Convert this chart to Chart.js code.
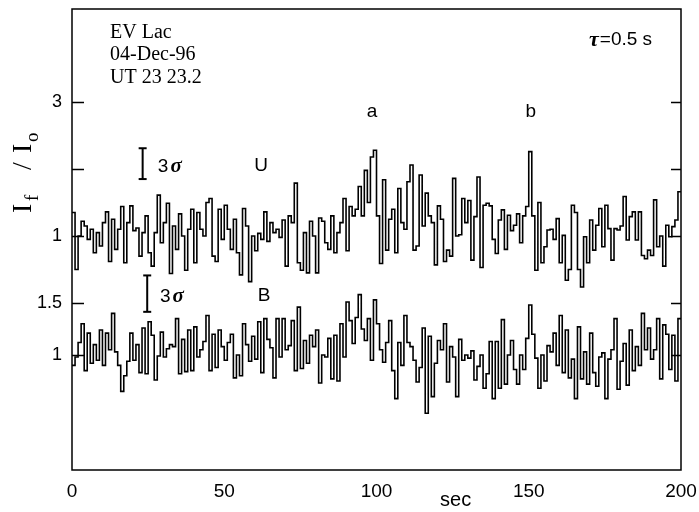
<!DOCTYPE html>
<html>
<head>
<meta charset="utf-8">
<title>EV Lac 04-Dec-96</title>
<script src="https://cdn.jsdelivr.net/npm/chart.js@4.4.1/dist/chart.umd.min.js"></script>
<style>
  html, body { margin: 0; padding: 0; background: #fff; }
  #wrap { width: 699px; height: 512px; }
</style>
</head>
<body>
<div id="wrap"><canvas id="flareChart" width="699" height="512"></canvas></div>
<script>
// --- data: I_f / I_o per time bin ---
const binSec = 1;
const uFlux = [
  1.35, 0.5, 1.0, 1.22, 1.15, 0.95, 1.1, 0.75, 1.05, 0.85,
  1.2, 1.36, 0.62, 1.25, 0.8, 1.1, 1.44, 0.6, 1.2, 1.45,
  1.08, 1.12, 0.7, 1.05, 1.3, 0.75, 0.55, 1.05, 1.61, 0.9,
  1.2, 1.49, 0.44, 1.15, 0.8, 1.33, 1.0, 0.49, 1.1, 1.4,
  0.6, 1.35, 1.1, 1.0, 1.5, 1.56, 0.7, 0.62, 1.4, 0.95,
  1.46, 1.1, 0.8, 1.25, 0.75, 0.42, 1.41, 1.15, 0.32, 1.0,
  0.78, 1.04, 0.95, 1.36, 0.92, 1.2, 1.05, 1.1, 0.98, 1.24,
  0.55, 1.3, 1.2, 1.79, 0.6, 0.49, 1.05, 0.45, 1.22, 1.0,
  0.45, 1.27, 1.22, 0.9, 0.8, 1.3, 0.75, 1.05, 1.2, 1.56,
  0.78, 1.44, 1.3, 1.4, 1.74, 1.3, 1.98, 1.5, 2.18, 2.28,
  1.3, 0.59, 1.84, 0.79, 1.25, 1.4, 0.75, 1.71, 1.2, 1.1,
  1.81, 2.06, 0.79, 0.85, 1.91, 1.15, 1.64, 1.3, 1.2, 0.57,
  1.45, 1.25, 0.62, 0.79, 0.7, 1.86, 1.0, 1.02, 1.56, 1.2,
  1.53, 0.64, 1.29, 1.88, 0.53, 1.46, 1.49, 1.45, 0.95, 0.74,
  1.24, 1.39, 0.8, 1.31, 1.08, 1.16, 1.33, 0.9, 1.3, 1.44,
  2.26, 1.3, 0.49, 1.5, 0.6, 0.84, 1.09, 1.1, 0.95, 1.26,
  0.6, 1.01, 0.34, 0.5, 1.46, 1.35, 0.5, 0.24, 0.99, 0.6,
  1.24, 0.79, 1.16, 1.41, 0.84, 1.46, 1.11, 0.64, 1.11, 1.09,
  1.15, 1.59, 0.94, 1.29, 1.36, 0.94, 1.36, 0.71, 0.66, 0.79,
  0.71, 1.54, 0.84, 1.0, 0.55, 1.16, 0.99, 1.14, 1.24, 1.66
];
const bFlux = [
  0.9, 0.98, 1.12, 1.3, 0.85, 1.21, 0.92, 1.1, 0.95, 1.24,
  0.9, 1.21, 1.05, 1.4, 1.03, 0.9, 0.65, 0.8, 0.94, 1.21,
  0.95, 1.1, 0.83, 1.26, 0.82, 1.32, 1.19, 0.76, 0.99, 1.22,
  0.98, 1.06, 1.1, 1.08, 1.35, 0.82, 1.15, 0.84, 1.24, 0.85,
  1.27, 0.98, 1.05, 1.13, 1.38, 0.85, 1.2, 0.88, 1.24, 1.08,
  0.95, 1.12, 1.2, 0.78, 1.0, 0.8, 1.3, 1.1, 0.94, 1.18,
  0.96, 1.32, 0.83, 1.35, 1.15, 1.07, 0.78, 1.35, 0.98, 1.35,
  1.05, 1.09, 1.33, 0.85, 1.46, 0.87, 1.14, 0.92, 1.19, 1.08,
  1.24, 0.73, 1.0, 0.98, 1.16, 0.77, 1.19, 0.75, 1.3, 0.98,
  1.51, 1.33, 1.11, 1.36, 1.58, 1.25, 1.14, 1.35, 0.95, 1.53,
  1.3, 1.05, 0.93, 1.12, 1.33, 0.85, 0.58, 1.12, 0.9, 1.38,
  1.12, 1.08, 0.95, 0.74, 0.88, 1.26, 0.44, 1.18, 0.6, 0.92,
  1.14, 1.05, 1.3, 0.74, 1.08, 0.98, 0.6, 1.15, 0.95, 1.0,
  0.97, 1.04, 0.76, 0.89, 1.0, 0.68, 0.82, 1.13, 0.58, 1.13,
  0.68, 1.34, 0.72, 1.0, 1.14, 0.86, 0.72, 1.0, 0.86, 1.16,
  1.48, 1.2, 0.97, 0.68, 1.0, 0.75, 1.09, 1.03, 1.21, 0.9,
  1.38, 0.83, 1.24, 0.78, 0.96, 0.58, 1.27, 0.77, 1.03, 0.72,
  1.21, 0.83, 0.7, 0.98, 1.02, 0.58, 0.96, 1.05, 1.35, 0.67,
  0.94, 1.11, 0.71, 1.24, 0.85, 1.08, 0.9, 1.4, 1.05, 1.26,
  0.96, 1.05, 1.35, 0.77, 1.29, 1.2, 0.86, 1.19, 0.75, 1.35
];
const xTicks = [0, 50, 100, 150, 200];
const uTicks = [1, 2, 3];
const uTickLabels = ['1', '', '3'];
const bTicks = [1, 1.5];
const bTickLabels = ['1', '1.5'];
// 3 sigma bars (time, centre, full length)
const sigmaU = { t: 23.2, mid: 2.08, len: 0.46 };
const sigmaB = { t: 24.7, mid: 1.59, len: 0.35 };

const SANS = '"Liberation Sans", Arial, sans-serif';
const SERIF = '"Liberation Serif", "Times New Roman", serif';

// step histogram: each value holds for one bin, last value closes at the end
function toSteps(arr) {
  const pts = arr.map((v, i) => ({ x: i * binSec, y: v }));
  pts.push({ x: arr.length * binSec, y: arr[arr.length - 1] });
  return pts;
}
function sigmaBar(s) {
  return [{ x: s.t, y: s.mid + s.len / 2 }, { x: s.t, y: s.mid - s.len / 2 }];
}

const traceStyle = { borderColor: '#000', borderWidth: 1.6, pointRadius: 0, stepped: 'before',
  fill: false, clip: false };
const barStyle = { borderColor: '#000', borderWidth: 2, pointStyle: 'line', pointRadius: 4,
  pointBorderWidth: 2, pointBorderColor: '#000', fill: false, clip: false };

// frame, inner ticks and text labels
const overlay = {
  id: 'overlay',
  afterDraw(chart) {
    const { ctx, chartArea: a, scales } = chart;
    const x = scales.x, yU = scales.yU, yB = scales.yB;
    ctx.save();
    ctx.strokeStyle = '#000';
    ctx.lineWidth = 1.5;
    ctx.strokeRect(a.left, a.top, a.right - a.left, a.bottom - a.top);
    const tick = (s, v) => {
      const p = Math.round(s.getPixelForValue(v)) + 0.5;
      ctx.beginPath();
      ctx.moveTo(a.left, p); ctx.lineTo(a.left + 12, p);
      ctx.moveTo(a.right, p); ctx.lineTo(a.right - 10, p);
      ctx.stroke();
    };
    uTicks.forEach(v => tick(yU, v));
    bTicks.forEach(v => tick(yB, v));

    ctx.fillStyle = '#000';
    ctx.textBaseline = 'middle';
    const put = (txt, font, t, s, v, align) => {
      ctx.font = font;
      ctx.textAlign = align || 'left';
      ctx.fillText(txt, x.getPixelForValue(t), s.getPixelForValue(v));
    };
    // header block
    put('EV Lac', '20px ' + SERIF, 12.5, yU, 4.03);
    put('04-Dec-96', '20px ' + SERIF, 12.5, yU, 3.70);
    put('UT 23 23.2', '20px ' + SERIF, 12.5, yU, 3.36);
    // tau = 0.5 s, right aligned
    const rest = '=0.5 s';
    const xr = x.getPixelForValue(190.5);
    const yt = yU.getPixelForValue(3.925);
    ctx.textAlign = 'right';
    ctx.font = '19px ' + SANS;
    ctx.fillText(rest, xr, yt);
    const restW = ctx.measureText(rest).width;
    ctx.font = 'bold italic 22px ' + SERIF;
    ctx.fillText('\u03C4', xr - restW - 1, yt);
    // peak labels
    put('a', '19px ' + SANS, 98.5, yU, 2.85, 'center');
    put('b', '19px ' + SANS, 150.7, yU, 2.85, 'center');
    put('U', '19px ' + SANS, 62.1, yU, 2.045, 'center');
    put('B', '19px ' + SANS, 63.1, yB, 1.567, 'center');
    // 3 sigma labels
    const sig = (t, s, v) => {
      ctx.textAlign = 'left';
      ctx.font = '19px ' + SANS;
      const px = x.getPixelForValue(t), py = s.getPixelForValue(v);
      ctx.fillText('3', px, py);
      const w = ctx.measureText('3').width;
      ctx.font = 'bold italic 21px ' + SERIF;
      ctx.fillText('\u03C3', px + w + 2, py);
    };
    sig(28.2, yU, 2.03);
    sig(28.9, yB, 1.558);
    // x axis title
    ctx.font = '20px ' + SANS;
    ctx.textAlign = 'center';
    ctx.fillText('sec', x.getPixelForValue(126), a.bottom + 30);
    // y axis title I_f / I_o (rotated)
    ctx.translate(a.left - 41, a.top + 204);
    ctx.rotate(-Math.PI / 2);
    ctx.textAlign = 'left';
    ctx.textBaseline = 'alphabetic';
    ctx.font = '28px ' + SERIF;
    ctx.fillText('I', 0, 0);
    ctx.font = '19px ' + SERIF;
    ctx.fillText('f', 12, 7);
    ctx.font = '28px ' + SERIF;
    ctx.fillText('/', 43, 0);
    ctx.fillText('I', 60, 0);
    ctx.font = '19px ' + SERIF;
    ctx.fillText('o', 71, 7);
    ctx.restore();
  }
};

const yCommon = {
  type: 'linear',
  position: 'left',
  stack: 'flux',
  grid: { display: false, drawTicks: false },
  border: { display: false },
  afterFit: s => { s.width = 72; s.paddingTop = 0; s.paddingBottom = 0; }
};

new Chart(document.getElementById('flareChart'), {
  type: 'line',
  data: {
    datasets: [
      { data: toSteps(uFlux), yAxisID: 'yU', ...traceStyle },
      { data: toSteps(bFlux), yAxisID: 'yB', ...traceStyle },
      { data: sigmaBar(sigmaU), yAxisID: 'yU', ...barStyle },
      { data: sigmaBar(sigmaB), yAxisID: 'yB', ...barStyle }
    ]
  },
  options: {
    responsive: false,
    devicePixelRatio: 1,
    animation: false,
    events: [],
    layout: { padding: { top: 9, right: 18, bottom: 0, left: 0 } },
    plugins: { legend: { display: false }, tooltip: { enabled: false } },
    scales: {
      x: {
        type: 'linear', min: 0, max: 200,
        afterBuildTicks: s => { s.ticks = xTicks.map(v => ({ value: v })); },
        ticks: { color: '#000', font: { family: SANS, size: 19 }, padding: 10, maxRotation: 0 },
        grid: { display: false, drawTicks: false },
        border: { display: false },
        afterFit: s => { s.height = 42; s.paddingLeft = 0; s.paddingRight = 0; }
      },
      yB: {
        ...yCommon, weight: 0, stackWeight: 185, min: -0.106, max: 1.673,
        afterBuildTicks: s => { s.ticks = bTicks.map(v => ({ value: v })); },
        ticks: { color: '#000', font: { family: SANS, size: 18 }, padding: 10,
          callback: v => bTickLabels[bTicks.indexOf(v)] }
      },
      yU: {
        ...yCommon, weight: 1, stackWeight: 276, min: 0.269, max: 4.388,
        afterBuildTicks: s => { s.ticks = uTicks.map(v => ({ value: v })); },
        ticks: { color: '#000', font: { family: SANS, size: 18 }, padding: 10,
          callback: v => uTickLabels[uTicks.indexOf(v)] }
      }
    }
  },
  plugins: [overlay]
});
</script>
</body>
</html>
